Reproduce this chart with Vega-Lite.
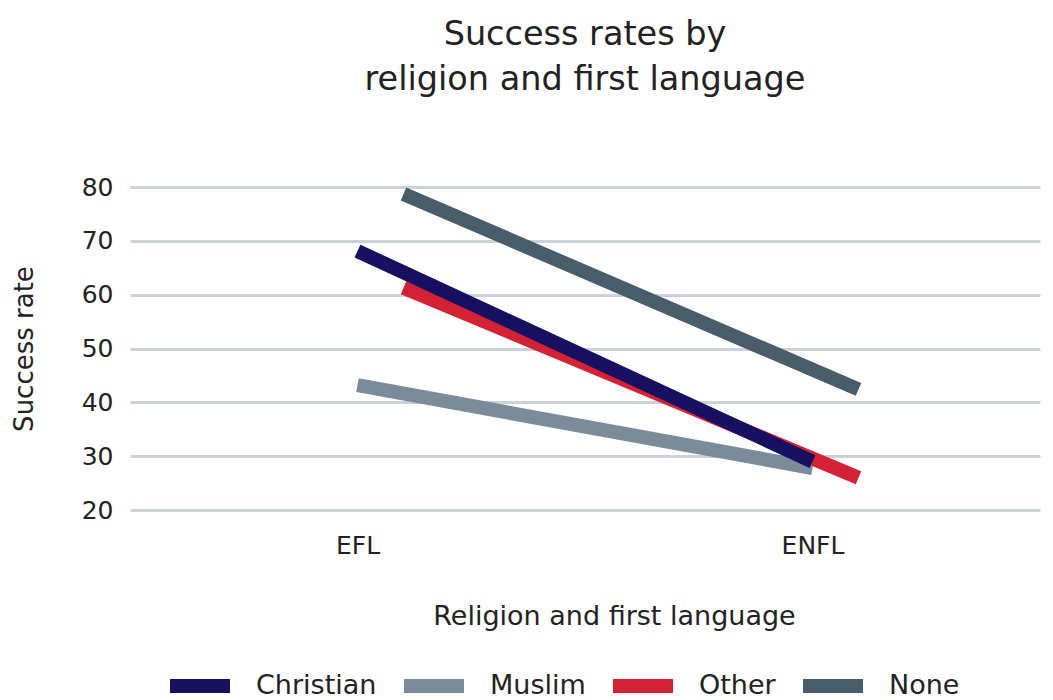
{
  "$schema": "https://vega.github.io/schema/vega-lite/v6.json",
  "width": 910,
  "height": 323,
  "autosize": {"type": "none"},
  "padding": {"left": 130, "top": 187, "right": 13, "bottom": 190},
  "background": "white",
  "config": {
    "font": "DejaVu Sans",
    "view": {"stroke": null}
  },
  "title": {
    "text": ["Success rates by", "religion and first language"],
    "fontSize": 33.5,
    "fontWeight": "normal",
    "color": "#222222",
    "anchor": "middle",
    "lineHeight": 45,
    "offset": 68
  },
  "data": {
    "values": [
      {"language": "EFL", "religion": "Muslim", "rate": 43.2},
      {"language": "ENFL", "religion": "Muslim", "rate": 27.8},
      {"language": "EFL", "religion": "Other", "rate": 61.3},
      {"language": "ENFL", "religion": "Other", "rate": 26.0},
      {"language": "EFL", "religion": "None", "rate": 78.7},
      {"language": "ENFL", "religion": "None", "rate": 42.4},
      {"language": "EFL", "religion": "Christian", "rate": 68.1},
      {"language": "ENFL", "religion": "Christian", "rate": 29.0}
    ]
  },
  "transform": [
    {"calculate": "datum.religion === 'Other' || datum.religion === 'None' ? 1 : 0", "as": "pair"}
  ],
  "mark": {"type": "line", "strokeWidth": 14, "strokeCap": "butt"},
  "encoding": {
    "x": {
      "field": "language",
      "type": "nominal",
      "scale": {"type": "point", "domain": ["EFL", "ENFL"], "padding": 0.5},
      "axis": {
        "title": "Religion and first language",
        "titleFontSize": 27,
        "titleFontWeight": "normal",
        "titleColor": "#222222",
        "titlePadding": 45,
        "titleX": 484,
        "titleAnchor": "middle",
        "titleAlign": "center",
        "labelFontSize": 25,
        "labelColor": "#222222",
        "labelAngle": 0,
        "labelPadding": 23,
        "domain": false,
        "ticks": false,
        "grid": false
      }
    },
    "xOffset": {
      "field": "pair",
      "type": "quantitative",
      "scale": {"domain": [0, 1], "range": [0, 46]}
    },
    "y": {
      "field": "rate",
      "type": "quantitative",
      "scale": {"domain": [20, 80], "zero": false, "nice": false},
      "axis": {
        "title": "Success rate",
        "titleFontSize": 26,
        "titleFontWeight": "normal",
        "titleColor": "#222222",
        "titlePadding": 44,
        "labelFontSize": 25,
        "labelColor": "#222222",
        "labelPadding": 17,
        "values": [20, 30, 40, 50, 60, 70, 80],
        "domain": false,
        "ticks": false,
        "grid": true,
        "gridColor": "#cdd1d8",
        "gridWidth": 3
      }
    },
    "color": {
      "field": "religion",
      "type": "nominal",
      "scale": {
        "domain": ["Christian", "Muslim", "Other", "None"],
        "range": ["#170f5f", "#7c8b99", "#d32236", "#485d69"]
      },
      "legend": {
        "title": null,
        "orient": "none",
        "direction": "horizontal",
        "legendX": 33,
        "legendY": 462,
        "symbolType": "M-1,0H1",
        "symbolSize": 3600,
        "symbolStrokeWidth": 14,
        "labelFontSize": 27,
        "labelColor": "#222222",
        "labelOffset": 19,
        "columnPadding": -1,
        "labelLimit": 300
      }
    }
  }
}
